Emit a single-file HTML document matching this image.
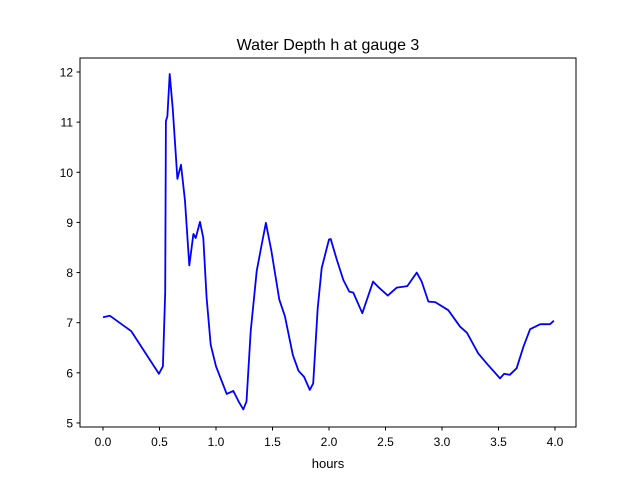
<!DOCTYPE html>
<html><head><meta charset="utf-8"><style>
body{margin:0;background:#fff;}
svg{display:block;font-family:"Liberation Sans","DejaVu Sans",sans-serif;}
</style></head><body>
<svg id="chart" width="640" height="480">
<rect width="640" height="480" fill="#fff"/>
<text x="328" y="50" text-anchor="middle" font-size="16">Water Depth h at gauge 3</text>
<g id="plot"></g>
<rect x="80" y="58" width="496" height="369" fill="none" stroke="#000" stroke-width="1"/>
<text x="328" y="468" text-anchor="middle" font-size="13">hours</text>
</svg>
<script>
const times=[0,0.06,0.25,0.495,0.53,0.55,0.557,0.57,0.59,0.617,0.658,0.69,0.726,0.764,0.8,0.82,0.858,0.888,0.917,0.953,1.0,1.095,1.153,1.2,1.242,1.27,1.307,1.36,1.404,1.442,1.49,1.56,1.61,1.68,1.73,1.78,1.83,1.86,1.9,1.935,2.0,2.015,2.07,2.127,2.18,2.215,2.295,2.39,2.437,2.52,2.6,2.693,2.776,2.82,2.88,2.94,3.056,3.16,3.22,3.32,3.395,3.513,3.55,3.6,3.66,3.72,3.78,3.87,3.956,3.99];
const depths=[7.11,7.14,6.83,5.98,6.13,7.6,11.02,11.12,11.96,11.28,9.87,10.15,9.43,8.14,8.77,8.69,9.01,8.69,7.5,6.56,6.13,5.58,5.64,5.43,5.27,5.43,6.83,8.03,8.56,8.99,8.43,7.46,7.13,6.36,6.04,5.92,5.66,5.79,7.29,8.09,8.66,8.67,8.25,7.85,7.62,7.6,7.19,7.82,7.71,7.54,7.7,7.73,8.0,7.82,7.42,7.41,7.25,6.92,6.8,6.39,6.19,5.89,5.98,5.96,6.09,6.52,6.87,6.97,6.97,7.04];
const xTicks=[0,0.5,1,1.5,2,2.5,3,3.5,4];
const xTickLabels=["0.0","0.5","1.0","1.5","2.0","2.5","3.0","3.5","4.0"];
const yTicks=[5,6,7,8,9,10,11,12];
const yTickLabels=["5","6","7","8","9","10","11","12"];
const X=t=>103+t*113;
const Y=h=>72+(12-h)*50.14;
const NS="http://www.w3.org/2000/svg";
const g=document.getElementById('plot');
xTicks.forEach((t,i)=>{
  const l=document.createElementNS(NS,'line');
  l.setAttribute('x1',X(t));l.setAttribute('x2',X(t));l.setAttribute('y1',427);l.setAttribute('y2',430.5);l.setAttribute('stroke','#000');
  
  
  g.appendChild(l);
  const tx=document.createElementNS(NS,'text');
  tx.setAttribute('x',X(t));tx.setAttribute('y',446);tx.setAttribute('text-anchor','middle');tx.setAttribute('font-size','12');
  tx.textContent=xTickLabels[i];
  
  
  g.appendChild(tx);
});
yTicks.forEach((h,i)=>{
  const l=document.createElementNS(NS,'line');
  l.setAttribute('x1',76.5);l.setAttribute('x2',80);l.setAttribute('y1',Y(h));l.setAttribute('y2',Y(h));l.setAttribute('stroke','#000');
  
  
  g.appendChild(l);
  const tx=document.createElementNS(NS,'text');
  tx.setAttribute('x',73);tx.setAttribute('y',Y(h)+4.5);tx.setAttribute('text-anchor','end');tx.setAttribute('font-size','12');
  tx.textContent=yTickLabels[i];
  
  
  g.appendChild(tx);
});
const p=document.createElementNS(NS,'polyline');
p.setAttribute('points',times.map((t,i)=>X(t).toFixed(1)+','+Y(depths[i]).toFixed(1)).join(' '));
p.setAttribute('fill','none');p.setAttribute('stroke','#0000ff');p.setAttribute('stroke-width','1.8');p.setAttribute('stroke-linejoin','round');


g.appendChild(p);
</script>
</body></html>
